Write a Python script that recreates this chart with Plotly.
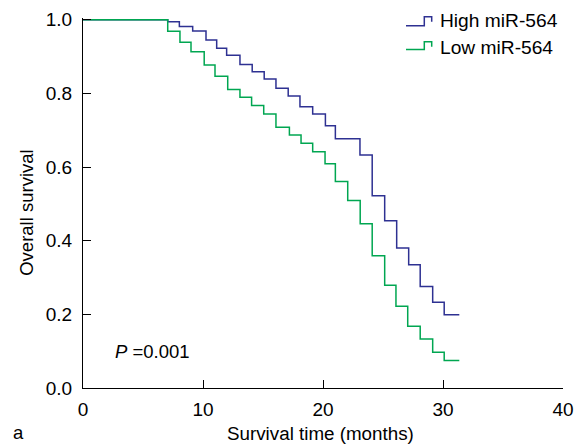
import plotly.graph_objects as go

# Kaplan-Meier step data (time in months, survival after each drop)
high_times = [0, 7.06, 8.03, 9.14, 10.25, 11.14, 11.97, 13.08, 14.1, 15.1, 16.08, 17.1, 18.08,
              19.14, 20.2, 21.03, 23.08, 24.1, 25.14, 26.14, 27.14, 28.1, 29.14, 30.1, 31.36]
high_surv = [1.0, 0.995, 0.982, 0.970, 0.945, 0.923, 0.904, 0.879, 0.859, 0.839, 0.814, 0.793, 0.764,
             0.744, 0.712, 0.677, 0.633, 0.522, 0.454, 0.380, 0.335, 0.276, 0.233, 0.199, 0.199]

low_times = [0, 7.06, 8.08, 9.0, 10.1, 11.0, 12.06, 13.08, 14.05, 15.06, 16.08, 17.2, 18.17,
             19.14, 20.17, 21.03, 22.06, 23.1, 24.1, 25.14, 26.08, 27.06, 28.1, 29.14, 30.1, 31.36]
low_surv = [1.0, 0.969, 0.939, 0.913, 0.877, 0.847, 0.811, 0.790, 0.767, 0.744, 0.708, 0.687, 0.665,
            0.642, 0.609, 0.561, 0.509, 0.446, 0.359, 0.279, 0.222, 0.168, 0.133, 0.097, 0.075, 0.075]

series_names = ["High miR-564", "Low miR-564"]
series_colors = ["#2e3192", "#00a651"]
x_ticks = [0, 10, 20, 30, 40]
y_ticks = [0.0, 0.2, 0.4, 0.6, 0.8, 1.0]

FONT = "Liberation Sans, Arial, Helvetica, sans-serif"

fig = go.Figure()
fig.add_trace(go.Scatter(x=high_times, y=high_surv, mode="lines", line_shape="hv",
                         line=dict(color=series_colors[0], width=1.5), name=series_names[0]))
fig.add_trace(go.Scatter(x=low_times, y=low_surv, mode="lines", line_shape="hv",
                         line=dict(color=series_colors[1], width=1.5), name=series_names[1]))

# page body has an 8px margin, so the figure is 576x440 placed at (8,8)
fig.update_layout(
    width=576, height=440,
    margin=dict(l=75, r=21, t=9.66, b=59.5),
    plot_bgcolor="white", paper_bgcolor="white",
    showlegend=False,
    font=dict(family=FONT, size=19, color="black"),
    xaxis=dict(range=[0, 40], tickvals=x_ticks, ticks="inside", ticklen=8, tickwidth=1.3,
               tickcolor="black", showline=True, linecolor="black", linewidth=1.3,
               showgrid=False, zeroline=False, ticklabelstandoff=4, automargin=False,
               tickfont=dict(family=FONT, size=19, color="black")),
    yaxis=dict(range=[0, 1.005], tickvals=y_ticks, tickformat=".1f", ticks="inside", ticklen=8,
               tickwidth=1.3, tickcolor="black", showline=True, linecolor="black", linewidth=1.3,
               showgrid=False, zeroline=False, ticklabelstandoff=6, automargin=False,
               tickfont=dict(family=FONT, size=19, color="black")),
)

def px_x(p):
    return (p - 83) / 480

def px_y(p):
    return (388.5 - p) / 370.6

# axis titles and panel label
fig.add_annotation(text="Survival time (months)", xref="paper", yref="paper",
                   x=px_x(320), y=px_y(434), showarrow=False,
                   xanchor="center", yanchor="middle", font=dict(family=FONT, size=18.8))
fig.add_annotation(text="Overall survival", xref="paper", yref="paper",
                   x=px_x(27), y=px_y(213), showarrow=False, textangle=-90,
                   xanchor="center", yanchor="middle", font=dict(family=FONT, size=18.5))
fig.add_annotation(text="a", xref="paper", yref="paper",
                   x=px_x(18.5), y=px_y(433), showarrow=False,
                   xanchor="center", yanchor="middle", font=dict(family=FONT, size=18.5))
fig.add_annotation(text="<i>P</i> =0.001", xref="x", yref="y", x=2.5, y=0.10,
                   showarrow=False, xanchor="left", yanchor="middle",
                   font=dict(family=FONT, size=18.5))

# custom legend with Kaplan-Meier style step icons
legend_rows = [(25.7, 16.7, 21.7, 20.5), (49.5, 41.7, 46.7, 47.5)]
for (bot, top, end, ty), name, col in zip(legend_rows, series_names, series_colors):
    path = (f"M {px_x(406)} {px_y(bot)} L {px_x(424.3)} {px_y(bot)} L {px_x(424.3)} {px_y(top)} "
            f"L {px_x(431.7)} {px_y(top)} L {px_x(431.7)} {px_y(end)}")
    fig.add_shape(type="path", path=path, xref="paper", yref="paper",
                  line=dict(color=col, width=1.5))
    fig.add_annotation(text=name, xref="paper", yref="paper", x=px_x(438), y=px_y(ty),
                       showarrow=False, xanchor="left", yanchor="middle",
                       font=dict(family=FONT, size=19.2))

fig.write_html("out.html")
